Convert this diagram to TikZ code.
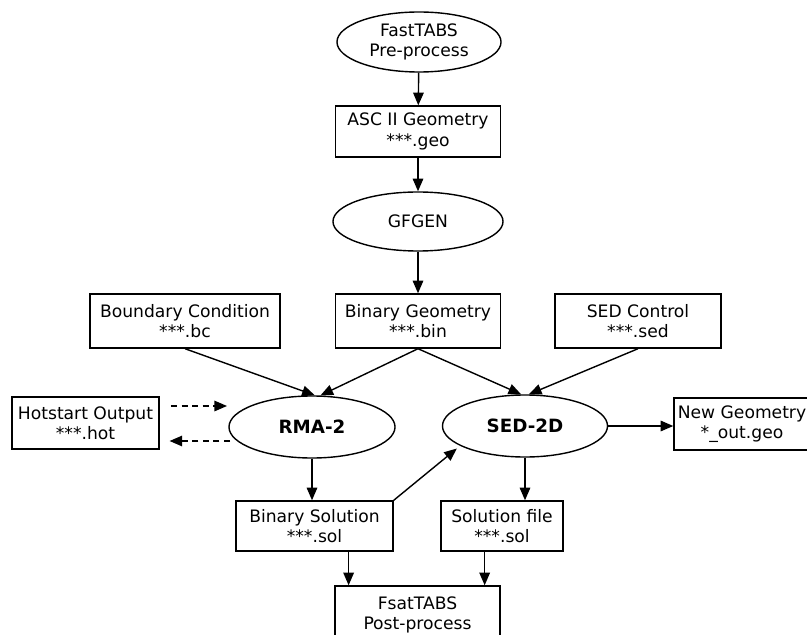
\documentclass[tikz,border=0pt]{standalone}
\usepackage{fontspec}
\setmainfont{DejaVu Sans}
\usetikzlibrary{arrows.meta,shapes.geometric}

\begin{document}
\begin{tikzpicture}[x=0.025cm,y=-0.025cm,line width=1pt,
	txt/.style={inner sep=0pt,align=center,font=\fontsize{12.2}{14.4}\selectfont},
	file/.style={txt,draw,rectangle},
	prog/.style={txt,draw,ellipse},
	solver/.style={prog,font=\fontsize{13}{15}\selectfont\bfseries},
	arr/.style={-{Triangle[length=9pt,width=7.5pt]}},
	darr/.style={arr,dash pattern=on 4.5pt off 3pt}]
	\useasboundingbox (0,0) rectangle (807,635);
	\node[prog,minimum width=4.1cm,minimum height=1.5cm] (pre) at (419,42) {FastTABS\\Pre-process};
	\node[file,minimum width=4.125cm,minimum height=1.275cm] (ascii) at (418,131.5) {ASC II Geometry\\***.geo};
	\node[prog,minimum width=4.25cm,minimum height=1.475cm] (gfgen) at (418,221.5) {GFGEN};
	\node[file,minimum width=4.125cm,minimum height=1.35cm] (bingeo) at (418,321) {Binary Geometry\\***.bin};
	\node[file,minimum width=4.75cm,minimum height=1.35cm] (bc) at (185,321) {Boundary Condition\\***.bc};
	\node[file,minimum width=4.15cm,minimum height=1.35cm] (sedc) at (638,321) {SED Control\\***.sed};
	\node[file,minimum width=3.675cm,minimum height=1.3cm] (hot) at (85.5,423) {Hotstart Output\\***.hot};
	\node[solver,minimum width=4.15cm,minimum height=1.55cm] (rma) at (312,427) {RMA-2};
	\node[solver,minimum width=4.125cm,minimum height=1.55cm] (sed) at (525,426) {SED-2D};
	\node[file,minimum width=3.4cm,minimum height=1.3cm] (newgeo) at (742,424) {New Geometry\\*\_out.geo};
	\node[file,minimum width=3.925cm,minimum height=1.25cm] (binsol) at (314.5,526) {Binary Solution\\***.sol};
	\node[file,minimum width=3.05cm,minimum height=1.25cm] (solf) at (502,526) {Solution file\\***.sol};
	\node[file,minimum width=4.125cm,minimum height=1.45cm] (post) at (417.5,615) {FsatTABS\\Post-process};
	\coordinate (hotin) at (227,406);
	\coordinate (hotout) at (230,441);
	\draw[arr] (pre) -- (ascii);
	\draw[arr] (ascii) -- (gfgen);
	\draw[arr] (gfgen) -- (bingeo);
	\draw[arr] (bc.south) -- (rma.85);
	\draw[arr] (bingeo.south) -- (rma.75);
	\draw[arr] (bingeo.south) -- (sed.97);
	\draw[arr] (sedc.south) -- (sed.83);
	\draw[darr,shorten <=8pt] (hot.east |- hotin) -- (hotin);
	\draw[darr,shorten >=7pt] (hotout) -- (hot.east |- hotout);
	\draw[arr] (sed.east) -- (sed.east -| newgeo.west);
	\draw[arr] (rma.south) -- (rma.south |- binsol.north);
	\draw[arr] (sed.south) -- (sed.south |- solf.north);
	\draw[arr,shorten >=3pt] (binsol.north east) -- (sed.197);
	\draw[arr] (binsol.-37) -- (binsol.-37 |- post.north);
	\draw[arr] (solf.-124) -- (solf.-124 |- post.north);
\end{tikzpicture}
\end{document}
